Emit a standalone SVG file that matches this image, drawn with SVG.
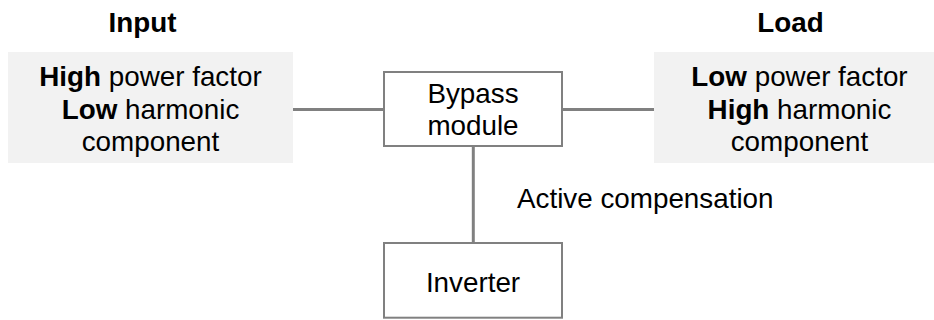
<svg xmlns="http://www.w3.org/2000/svg" width="934" height="320" viewBox="0 0 934 320">
<style>
text{font-family:"Liberation Sans",Arial,sans-serif;font-size:27.8px;fill:#000;text-anchor:middle}
.b{font-weight:bold}
.panel{fill:#f2f2f2;stroke:none}
.node{fill:#fff;stroke:#808080;stroke-width:2}
.conn{stroke:#808080;stroke-width:3;fill:none}
</style>
<rect width="934" height="320" fill="#fff"/>
<g id="connectors">
<line class="conn" x1="293" y1="109.5" x2="384" y2="109.5"/>
<line class="conn" x1="562" y1="109.5" x2="654" y2="109.5"/>
<line class="conn" x1="473.3" y1="146" x2="473.3" y2="243"/>
</g>
<g id="input">
<text class="b" x="142.5" y="31.5">Input</text>
<rect class="panel" x="8" y="52" width="285" height="111"/>
<text x="150.5" y="86"><tspan class="b">High</tspan> power factor</text>
<text x="150.5" y="118.5"><tspan class="b">Low</tspan> harmonic</text>
<text x="150.5" y="151">component</text>
</g>
<g id="load">
<text class="b" x="790.5" y="31.5">Load</text>
<rect class="panel" x="654" y="52" width="290" height="111"/>
<text x="799.5" y="86"><tspan class="b">Low</tspan> power factor</text>
<text x="799.5" y="118.5"><tspan class="b">High</tspan> harmonic</text>
<text x="799.5" y="151">component</text>
</g>
<g id="bypass">
<rect class="node" x="384" y="72" width="178" height="74"/>
<text x="473" y="102.5">Bypass</text>
<text x="473" y="135">module</text>
</g>
<g id="inverter">
<rect class="node" x="384" y="243" width="178" height="74.7"/>
<text x="473" y="291.5">Inverter</text>
</g>
<text x="517" y="208.3" style="text-anchor:start">Active compensation</text>
</svg>
